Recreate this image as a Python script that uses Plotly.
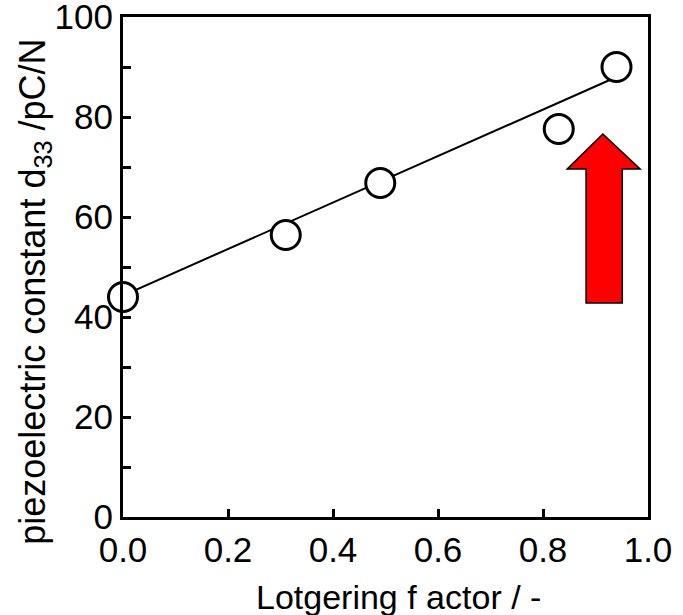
import plotly.graph_objects as go

# Data
lotgering = [0.0, 0.31, 0.49, 0.83, 0.94]
d33 = [44.0, 56.4, 66.8, 77.6, 90.0]
fit_x = [0.0, 0.94]
fit_y = [44.3, 88.0]

x_ticks = [0.0, 0.2, 0.4, 0.6, 0.8, 1.0]
x_tick_labels = ["0.0", "0.2", "0.4", "0.6", "0.8", "1.0"]
y_ticks = [0, 20, 40, 60, 80, 100]
y_tick_labels = ["0", "20", "40", "60", "80", "100"]

FONT = "Liberation Sans, Arial, sans-serif"

fig = go.Figure()
fig.add_trace(go.Scatter(x=fit_x, y=fit_y, mode="lines",
                         line=dict(color="black", width=2), showlegend=False,
                         cliponaxis=False))
fig.add_trace(go.Scatter(x=lotgering, y=d33, mode="markers",
                         marker=dict(size=29, color="white", symbol="circle",
                                     line=dict(color="black", width=3)),
                         showlegend=False, cliponaxis=False))

# Red arrow (data coordinates)
ax_l, ax_r = 0.882, 0.951
hd_l, hd_r = 0.846, 0.985
tip_x, tip_y = 0.914, 76.6
head_y, base_y = 69.6, 42.8
path = (f"M {ax_l} {base_y} L {ax_l} {head_y} L {hd_l} {head_y} L {tip_x} {tip_y} "
        f"L {hd_r} {head_y} L {ax_r} {head_y} L {ax_r} {base_y} Z")
fig.add_shape(type="path", path=path, xref="x", yref="y",
              fillcolor="#ff0000", line=dict(color="black", width=1.5))

fig.add_annotation(text="piezoelectric constant d<sub>33</sub> /pC/N",
                   xref="paper", yref="paper", x=-0.168, y=0.45,
                   xanchor="center", yanchor="middle", textangle=-90,
                   showarrow=False, font=dict(size=36, family=FONT, color="black"))
fig.add_annotation(text="Lotgering f actor / -",
                   xref="paper", yref="paper", x=0.524, y=-0.16,
                   xanchor="center", yanchor="middle",
                   showarrow=False, font=dict(size=34, family=FONT, color="black"))

fig.update_layout(
    width=683, height=615,
    margin=dict(l=123, r=35, t=17, b=98),
    plot_bgcolor="white", paper_bgcolor="white",
    font=dict(family=FONT, color="black"),
    xaxis=dict(range=[0, 1], tickvals=x_ticks, ticktext=x_tick_labels,
               ticks="inside", ticklen=8, tickwidth=3, tickcolor="black",
               showline=True, linewidth=3, linecolor="black", mirror=True,
               showgrid=False, zeroline=False, automargin=False,
               ticklabeloverflow="allow",
               tickfont=dict(size=35, family=FONT)),
    yaxis=dict(range=[0, 100], tickvals=y_ticks, ticktext=y_tick_labels,
               ticks="inside", ticklen=8, tickwidth=3, tickcolor="black",
               minor=dict(dtick=10, ticks="inside", ticklen=8, tickwidth=3, tickcolor="black"),
               showline=True, linewidth=3, linecolor="black", mirror=True,
               showgrid=False, zeroline=False, automargin=False,
               ticklabeloverflow="allow", ticklabelstandoff=0,
               tickfont=dict(size=35, family=FONT)),
)

fig.write_html("out.html", config={"displayModeBar": False},
               post_script="document.body.style.margin='0px';document.body.style.overflow='hidden';")
